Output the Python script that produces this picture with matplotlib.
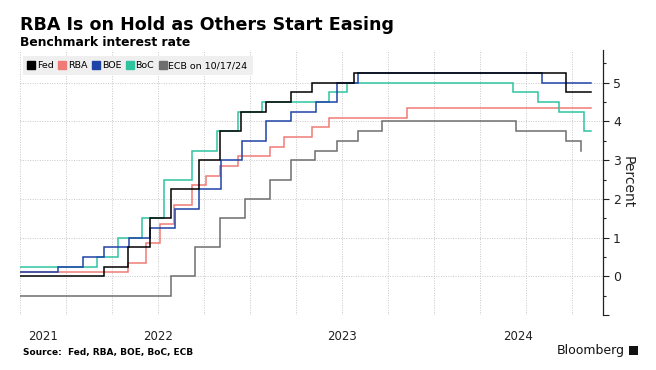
import matplotlib
matplotlib.use("Agg")
from matplotlib import pyplot as plt
from matplotlib.lines import Line2D
import matplotlib.dates as mdates
import numpy as np

plt.rcParams['font.family'] = ['DejaVu Sans']

# Rate decisions (date, rate) - step series
fed_dates = ['2021-09-01', '2022-03-16', '2022-05-04', '2022-06-15', '2022-07-27', '2022-09-21',
             '2022-11-02', '2022-12-14', '2023-02-01', '2023-03-22', '2023-05-03', '2023-07-26',
             '2024-09-18', '2024-11-06']
fed_rates = [0.0, 0.25, 0.75, 1.50, 2.25, 3.00, 3.75, 4.25, 4.50, 4.75, 5.00, 5.25, 4.75, 4.75]

rba_dates = ['2021-09-01', '2022-05-04', '2022-06-08', '2022-07-06', '2022-08-03', '2022-09-07',
             '2022-10-05', '2022-11-02', '2022-12-07', '2023-02-08', '2023-03-08', '2023-05-03',
             '2023-06-07', '2023-11-08', '2024-11-06']
rba_rates = [0.10, 0.35, 0.85, 1.35, 1.85, 2.35, 2.60, 2.85, 3.10, 3.35, 3.60, 3.85, 4.10, 4.35, 4.35]

boe_dates = ['2021-09-01', '2021-12-16', '2022-02-03', '2022-03-17', '2022-05-05', '2022-06-16',
             '2022-08-04', '2022-09-22', '2022-11-03', '2022-12-15', '2023-02-02', '2023-03-23',
             '2023-05-11', '2023-06-22', '2023-08-03', '2024-08-01', '2024-11-06']
boe_rates = [0.10, 0.25, 0.50, 0.75, 1.00, 1.25, 1.75, 2.25, 3.00, 3.50, 4.00, 4.25,
             4.50, 5.00, 5.25, 5.00, 5.00]

boc_dates = ['2021-09-01', '2022-03-02', '2022-04-13', '2022-06-01', '2022-07-13', '2022-09-07',
             '2022-10-26', '2022-12-07', '2023-01-25', '2023-06-07', '2023-07-12', '2024-06-05',
             '2024-07-24', '2024-09-04', '2024-10-23', '2024-11-06']
boc_rates = [0.25, 0.50, 1.00, 1.50, 2.50, 3.25, 3.75, 4.25, 4.50, 4.75, 5.00, 4.75,
             4.50, 4.25, 3.75, 3.75]

ecb_dates = ['2021-09-01', '2022-07-27', '2022-09-14', '2022-11-02', '2022-12-21', '2023-02-08',
             '2023-03-22', '2023-05-10', '2023-06-21', '2023-08-02', '2023-09-20', '2024-06-12',
             '2024-09-18', '2024-10-17', '2024-10-17']
ecb_rates = [-0.50, 0.00, 0.75, 1.50, 2.00, 2.50, 3.00, 3.25, 3.50, 3.75, 4.00, 3.75,
             3.50, 3.25, 3.25]

series = [
    ('Fed', fed_dates, fed_rates, '#000000'),
    ('RBA', rba_dates, rba_rates, '#f07b76'),
    ('BOE', boe_dates, boe_rates, '#1f44a8'),
    ('BoC', boc_dates, boc_rates, '#2fc3a0'),
    ('ECB on 10/17/24', ecb_dates, ecb_rates, '#6e6e6e'),
]

years = ['2021', '2022', '2023', '2024']
year_label_pos = ['2021-11-15', '2022-07-02', '2023-07-02', '2024-06-16']

fig = plt.figure(figsize=(6.56, 3.70), dpi=100)
ax = fig.add_axes([0.0305, 0.149, 0.889, 0.716])

# draw ECB first so others sit on top, keep legend order
for name, d, r, c in [series[4], series[1], series[3], series[2], series[0]]:
    ax.plot(np.array(d, dtype='datetime64[D]'), r, drawstyle='steps-post',
            color=c, lw=1.1, solid_joinstyle='miter')

ax.set_xlim(np.datetime64('2021-10-01'), np.datetime64('2024-12-01'))
ax.set_ylim(-1, 5.85)

# quarterly gridlines
ax.xaxis.set_major_locator(mdates.MonthLocator(bymonth=[1, 4, 7, 10]))
ax.xaxis.set_major_formatter(plt.NullFormatter())
ax.xaxis.set_minor_locator(plt.FixedLocator(mdates.date2num(np.array(year_label_pos, dtype='datetime64[D]'))))
ax.xaxis.set_minor_formatter(plt.FixedFormatter(years))
ax.tick_params(axis='x', which='both', length=0, labelsize=8.5, colors='#222222', pad=11)

ax.yaxis.tick_right()
ax.yaxis.set_label_position('right')
ax.set_yticks(range(-1, 6))
ax.set_yticklabels([''] + [str(v) for v in range(0, 6)])
ax.set_yticks(np.arange(-0.5, 5.6, 1.0), minor=True)
ax.tick_params(axis='y', which='major', length=4, width=0.8, labelsize=9, colors='#222222', pad=3)
ax.tick_params(axis='y', which='minor', length=2.5, width=0.8, colors='#222222')
ax.set_ylabel('Percent', rotation=270, fontsize=10, labelpad=10, color='#222222')

ax.grid(True, which='major', color='#c8c8c8', lw=0.7, ls=(0, (1, 1.5)))
for s in ['top', 'left', 'bottom']:
    ax.spines[s].set_visible(False)
ax.spines['right'].set_color('#222222')
ax.spines['right'].set_linewidth(0.9)

handles = [Line2D([], [], marker='s', ls='none', color=c, markersize=5.5) for _, _, _, c in series]
leg = ax.legend(handles, [s[0] for s in series], loc='upper left', ncol=5, fontsize=6.8,
                frameon=True, handletextpad=0.25, columnspacing=0.55, borderpad=0.55,
                handlelength=0.7, bbox_to_anchor=(-0.003, 0.995))
leg.get_frame().set_facecolor('#efefef')
leg.get_frame().set_edgecolor('none')
leg.get_frame().set_alpha(1)
leg.get_frame().set_boxstyle('square', pad=0)

fig.text(0.03, 0.932, 'RBA Is on Hold as Others Start Easing', fontsize=12.6, fontweight='bold',
         va='center', ha='left')
fig.text(0.03, 0.886, 'Benchmark interest rate', fontsize=8.95, fontweight='bold',
         va='center', ha='left')
fig.text(0.035, 0.048, 'Source:  Fed, RBA, BOE, BoC, ECB', fontsize=6.5, fontweight='bold',
         va='center', ha='left')
fig.text(0.952, 0.053, 'Bloomberg', fontsize=9, va='center', ha='right', color='#111111')
fig.patches.append(plt.Rectangle((0.959, 0.04), 0.014, 0.026, transform=fig.transFigure,
                                 facecolor='#111111', edgecolor='none'))

fig.savefig('out.png', dpi=100)
